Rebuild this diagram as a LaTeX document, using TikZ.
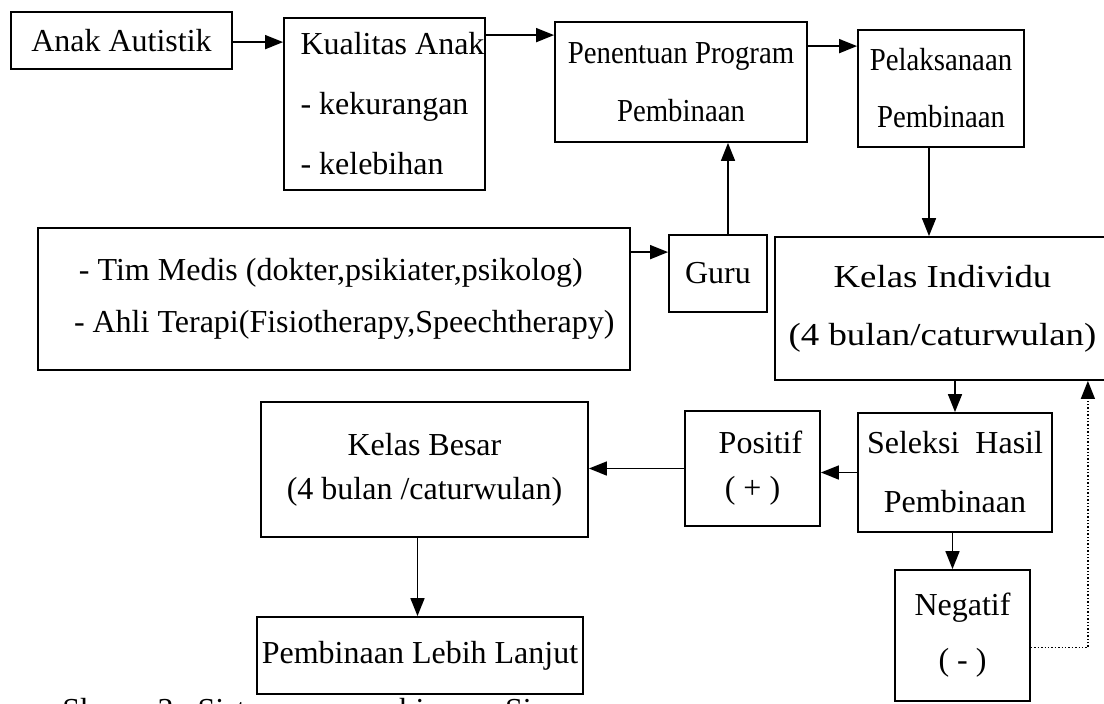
\documentclass[tikz,border=0pt]{standalone}
\usepackage{fontspec}
\setmainfont{Liberation Serif}
\newfontfamily\narrowserif[FakeStretch=0.9]{Liberation Serif}
\newfontfamily\wideserif[FakeStretch=1.15]{Liberation Serif}
\usetikzlibrary{arrows.meta, calc}

\begin{document}
\begin{tikzpicture}[
    x=0.5pt, y=-0.5pt,
    box/.style={rectangle, draw=black, line width=0.9pt, align=center,
        inner sep=0pt, font=\fontsize{16}{28}\selectfont},
    narrowbox/.style={box, font=\fontsize{16}{28}\narrowserif},
    widebox/.style={box, font=\fontsize{16}{28}\wideserif},
    listbox/.style={box, align=flush left},
    arrow/.style={-{Triangle[length=9pt, width=7pt]}, line width=0.8pt},
    dotline/.style={-{Triangle[length=9pt, width=7pt]}, densely dotted, line width=0.7pt}
]
\useasboundingbox (0,0) rectangle (1104,703);

% Top row
\node[box, minimum width=110.5pt, minimum height=28.5pt] (anak) at (121.5,40.5) {Anak Autistik};
\node[listbox, minimum width=100.5pt, minimum height=86pt] (kualitas) at (384.5,104)
    {\hspace*{8pt}Kualitas Anak\\[2pt]\hspace*{8pt}- kekurangan\\[2pt]\hspace*{8pt}- kelebihan};
\node[narrowbox, minimum width=126pt, minimum height=60pt] (program) at (681,82)
    {Penentuan Program\\[1pt]Pembinaan};
\node[narrowbox, minimum width=83pt, minimum height=58.5pt] (pelaksanaan) at (941,88.5)
    {Pelaksanaan\\[0.5pt]Pembinaan};

% Middle row
\node[listbox, text width=296pt, minimum height=71pt] (tim) at (334,299)
    {\hspace*{20.5pt}- Tim Medis (dokter,psikiater,psikolog)\\[-2pt]\hspace*{18pt}- Ahli Terapi(Fisiotherapy,Speechtherapy)};
\node[box, minimum width=49pt, minimum height=38.5pt] (guru) at (718,273.5) {Guru};
\node[widebox, minimum width=167.5pt, minimum height=71.5pt] (individu) at (942.5,308.5)
    {Kelas Individu\\[1pt](4 bulan/caturwulan)};

% Lower rows
\node[box, minimum width=97pt, minimum height=59.5pt] (seleksi) at (955,472.5)
    {Seleksi\ \ Hasil\\[1.5pt]Pembinaan};
\node[box, minimum width=67.5pt, minimum height=57.5pt] (positif) at (752.5,468.5)
    {\hspace*{8pt}Positif\\[-5.5pt]( + )};
\node[box, minimum width=163.5pt, minimum height=67.5pt] (besar) at (424.5,469.5)
    {Kelas Besar\\[-6pt](4 bulan /caturwulan)};
\node[box, minimum width=163pt, minimum height=38.5pt] (lanjut) at (420,655.5) {Pembinaan Lebih Lanjut};
\node[box, minimum width=67.5pt, minimum height=65.5pt] (negatif) at (962.5,635.5)
    {Negatif\\[-0.5pt]( - )};

% Caption (cut off by the page edge)
\node[anchor=base west, inner sep=0pt, font=\fontsize{16}{28}\selectfont] (caption) at (62,720)
    {Skema 3.\ \ Sistem\hspace{30pt}pembinaan\hspace{10pt}Siswa};

% Arrow ends
\coordinate (a1) at ($(anak.north east)+(0,31)$);
\coordinate (a2) at ($(kualitas.north east)+(0,18)$);
\coordinate (a3) at ($(program.north east)+(0,25)$);
\coordinate (a4) at ($(tim.north east)+(0,25)$);

% Arrows
\draw[arrow] (a1) -- (a1 -| kualitas.west);
\draw[arrow] (a2) -- (a2 -| program.west);
\draw[arrow] (a3) -- (a3 -| pelaksanaan.west);
\draw[arrow] ([xshift=-6pt]pelaksanaan.south) -- ([xshift=-6pt]pelaksanaan.south |- individu.north);
\draw[arrow] (a4) -- (a4 -| guru.west);
\draw[arrow] ([xshift=5pt]guru.north) -- ([xshift=5pt]guru.north |- program.south);
\draw[arrow] (seleksi.north |- individu.south) -- (seleksi.north);
\draw[arrow] (seleksi.west) -- (seleksi.west -| positif.east);
\draw[arrow] (positif.west) -- (positif.west -| besar.east);
\draw[arrow] ([xshift=-3.5pt]besar.south) -- ([xshift=-3.5pt]besar.south |- lanjut.north);
\draw[arrow] ([xshift=-5pt]negatif.north |- seleksi.south) -- ([xshift=-5pt]negatif.north);
\draw[dotline] ($(negatif.east)+(0,12)$) -- ++(57,0) coordinate (turn) -- (turn |- individu.south);

\end{tikzpicture}
\end{document}
